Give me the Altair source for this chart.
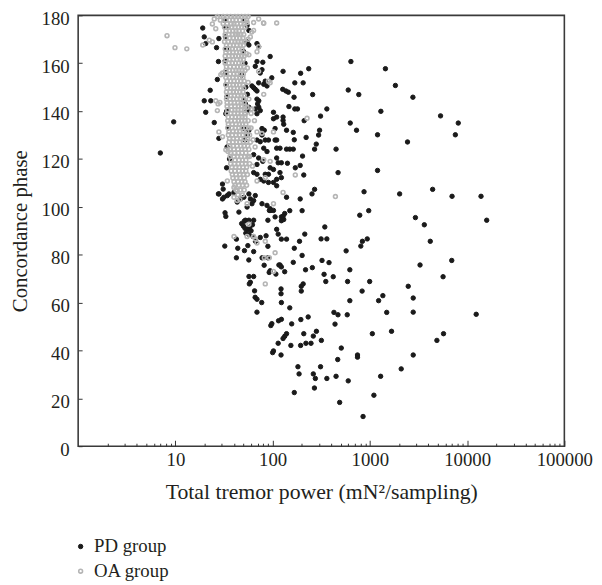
import altair as alt
import pandas as pd

FONT = "Liberation Serif"
TXT = "#231f20"

# ---- PD group (filled black dots): (total tremor power, concordance phase)
pd_points = [
    (7, 122.5), (9.6, 135.5), (19.1, 174.7), (19.8, 171), (20.5, 168.2), (28, 170.3), (26.5, 166.5),
    (27.7, 160.7), (27, 153.2), (22.8, 148.7), (19.8, 144.3), (23.1, 144.3), (20.5, 139.5), (33, 138.9),
    (25.1, 135.2), (28, 128.6), (33.6, 116.3), (27.7, 105.4), (31, 107.4), (34.2, 104.7), (30.5, 103.3),
    (30.5, 109.5), (28.1, 105.4), (31.6, 104), (35.6, 105.4), (32.4, 97.5), (33, 96), (32.2, 83.6),
    (32.7, 171), (33.5, 166), (33, 156), (34, 146), (33.7, 140), (35, 133), (34, 125), (36, 120),
    (32, 178), (33, 175), (32.5, 161), (33.2, 151),
    (50.6, 177.8), (54.6, 175.8), (57, 173.7), (54.6, 168.9), (57, 167.6), (69, 168.2), (71.8, 166.9),
    (69, 160.7), (66.3, 158.7), (77.7, 157.3), (74.6, 155.9), (94.3, 162.8), (128, 156.6), (79.2, 160.4),
    (98, 153.9), (83.9, 152.5), (81, 151.2), (87.5, 150.5), (71.8, 151.8), (63.8, 149.8), (66.3, 149.1),
    (69, 148.4), (61.3, 150.5), (127, 149.1), (137, 148.4), (69, 145), (72, 144.3), (70, 143), (72, 141.6),
    (66.3, 140.9), (74.6, 140.2), (69, 138.9), (50.6, 144.3), (52.5, 143), (54.6, 140.2), (57, 141.6),
    (102, 139.5), (128, 137.5), (110, 137.5), (50, 165), (52, 160), (48, 155), (53, 150), (55, 147),
    (50.6, 132.7), (57, 132), (54.6, 130), (52, 127.9), (77.7, 132.7), (82, 132), (77.7, 130), (69, 127.9),
    (74.6, 127.2), (83.9, 127.9), (90.6, 127.9), (106, 127.9), (110, 127.9), (102, 136.8), (128, 136.1),
    (130, 134.5), (106, 132.7), (81, 124.5), (87.5, 123.1), (110, 124.5), (119, 124.5), (63.8, 121.8),
    (71.8, 120.4), (69, 117.7), (79.2, 119), (114, 118.4), (123, 118.4), (110, 120.4), (94.3, 116.3),
    (102, 115.6), (119, 114.3), (63.8, 114.3), (69, 113.6), (83.9, 113.6), (90.6, 113.6), (74.6, 111.5),
    (81, 110.8), (90.6, 110.2), (102, 110.2), (110, 108.8), (123, 112.2), (40, 106), (43.2, 102),
    (46.7, 103.3), (50.6, 104), (57, 105.4), (59.1, 103.3), (63.8, 102.6), (66.3, 104.7), (61.3, 101.3),
    (54.6, 99.9), (77.7, 101.3), (87.5, 100.6), (94.3, 99.2), (45, 97.8), (52.4, 94.4), (57, 94.4),
    (63.8, 94.4), (123, 95.8), (133, 97.2), (139, 104), (102, 98.5), (110, 111.5),
    (638, 160.7), (1445, 157.7), (235, 157.7), (194, 155.8), (169, 151.8), (206, 151.8), (1830, 150.7),
    (599, 148.8), (769, 146.9), (2770, 145.8), (145, 147.9), (166, 145.8), (258, 146.9), (147, 141.9),
    (169, 140.9), (180, 140.9), (361, 140.9), (1297, 139.9), (311, 137.9), (211, 136), (628, 135),
    (139, 132), (163, 131.1), (304, 132), (729, 132), (297, 130), (167, 128), (221, 129), (1199, 130.1),
    (2438, 127.1), (281, 126.2), (139, 124.1), (150, 124.1), (163, 124.1), (270, 124.1), (449, 124.1),
    (203, 121.2), (142, 118.2), (171, 116.3), (192, 117.3), (209, 113.3), (471, 114.3), (1199, 115.2),
    (270, 107.3), (254, 105.4), (871, 106.3), (2023, 105.4), (4420, 107.3), (192, 103.3), (150, 98.4),
    (201, 98.4), (787, 96.5), (973, 98.4), (2940, 95.5), (3630, 92.5), (344, 91.6),
    (5330, 138), (8110, 135), (7570, 130.1), (7000, 104.4), (13900, 104.4), (15900, 94.4), (4180, 85.6),
    (6950, 77.6), (3280, 75.7), (5660, 70.8), (2480, 66.8), (2790, 61.9), (2790, 56), (12400, 55.1),
    (5720, 47), (4890, 44.2), (2790, 38.1), (2100, 32.3), (1670, 48), (1060, 47), (1490, 55.9),
    (1360, 62.9), (1230, 60.8), (995, 68.8), (832, 64.8), (1290, 29.2), (1100, 21.3), (851, 12.4),
    (489, 18.3), (599, 27.3), (449, 29.2), (361, 28.3), (275, 28.3), (262, 30.2), (269, 24.3), (311, 33.2),
    (182, 33.2), (187, 30.2), (467, 36.2), (508, 41), (746, 38.1), (746, 37.2), (194, 42.1), (220, 43),
    (248, 43), (209, 47), (262, 46), (282, 48), (317, 44.2), (195, 52.9), (232, 54), (427, 55.9),
    (470, 54.9), (585, 54.9), (438, 51), (622, 60.8), (590, 68.8), (622, 73.7), (420, 70.8), (352, 68.8),
    (338, 71.8), (380, 76.7), (322, 77.6), (570, 81.6), (218, 73.7), (256, 74.6), (197, 64.8), (206, 67.8),
    (197, 66.8), (201, 79.7), (189, 85.6), (214, 88.6), (315, 86.6), (361, 86.6), (807, 83.6), (838, 85.6),
    (940, 86.6),
    (42.4, 86.5), (42.4, 78.7), (43.8, 82.7), (51.3, 81.7), (56.9, 77.8), (57.1, 70.9), (63.8, 70.9),
    (59, 68.5), (57.6, 67.8), (65.2, 64.9), (66.1, 62.2), (69, 61.4), (77.2, 60), (69, 56), (95.8, 50.4),
    (98.1, 51.2), (115, 52.4), (123, 53), (128, 45), (133, 45.9), (139, 47), (114, 43), (102, 39.8),
    (100, 39.1), (122, 38.1), (154, 42.1), (167, 22.4), (150, 57.8), (123, 60), (122, 63.7), (122, 65.7),
    (157, 51.1), (167, 82.7), (163, 76.8), (119, 75.7), (116, 75.7), (123, 74.9), (133, 72.9), (108, 71.9),
    (94.3, 73.3), (92.2, 72.6), (110, 90.6), (123, 86.5), (139, 86.5), (114, 88.6), (106, 95.8), (128, 96.1),
    (123, 94.2), (130, 94.7), (89.4, 94.4), (95.8, 98.5), (92.5, 98.5), (89.4, 83.5), (89.4, 78.7),
    (81.8, 75.6), (77.9, 78.7), (85.6, 87.9), (74.6, 87.2), (66.7, 85.6), (63, 87.6), (55.6, 83.8),
    (63.8, 81.3), (50, 92), (52, 91), (55, 90.5), (58, 91.5), (62, 92.5), (48, 93), (53, 89), (57, 88.5),
    (60, 90), (51, 94),
]

# ---- OA group (open grey circles): scattered points
oa_points = [
    (8.2, 171.5), (9.9, 166.5), (13.1, 166), (19.1, 167.6), (22.3, 169.6), (24, 168.9), (25.1, 178.5),
    (24, 176.4), (26, 174.4), (71.8, 178.5), (80.6, 176.8), (110, 176.8), (61, 173), (63.8, 173.7), (59, 171),
    (71.8, 166.9), (69, 164.8), (57, 163.5), (30.5, 155.9), (29.3, 155.2), (71.8, 156.6), (94.3, 151.8),
    (90.6, 152.5), (81, 147), (61.3, 140.9), (54.6, 141.6), (52.5, 138.9), (27, 140.2), (26, 144.3),
    (54.6, 177), (63.8, 177), (81, 176.7), (27.5, 143), (28.7, 143.6), (28, 131.3), (30.5, 129.3),
    (33, 123.8), (34.8, 123.1), (69, 131.3), (77.7, 130.7), (102, 131.3), (81, 119.7), (94.3, 119),
    (128, 106), (102, 101.3), (84, 112.2), (69, 110.8), (34.2, 110.8), (40, 108.1), (43.2, 106.7), (40, 104),
    (43.2, 102.6), (54.6, 101.3), (40, 87.6), (54.6, 87.6), (63.8, 87.6), (57, 92.7), (69, 84.9), (66.3, 86.6),
    (84, 85.6), (106, 80.8), (82, 78.7), (92.5, 78.7), (102, 73), (84, 67.8), (226, 137), (171, 113.3),
    (442, 104.3), (60, 133), (63, 128), (66, 125), (58, 121), (62, 117), (65, 136), (60, 139), (57, 145),
    (56, 152), (55, 158), (54, 164), (56, 170),
]

# ---- OA group: dense column, read row by row (phase, powers)
oa_band_rows = [
    (179.5, [27, 31, 34, 37, 41, 44, 48, 52, 56]),
    (178, [29, 33, 36, 39, 42, 46, 50, 54]),
    (176.5, [31, 34, 37.5, 40, 43, 47, 51]),
    (175, [32, 35, 38, 41, 44.5, 48, 52]),
    (173.5, [33, 36, 39, 42, 45, 49]),
    (172, [32.5, 35.5, 38.5, 41.5, 44, 47, 50.5]),
    (170.5, [33, 36, 39.5, 42.5, 46, 49.5]),
    (169, [32, 35, 38, 41, 44, 47.5, 51]),
    (167.5, [33.5, 36.5, 39.5, 43, 46.5, 50]),
    (166, [32.5, 35.5, 38.5, 41.5, 45, 48.5]),
    (164.5, [33, 36, 39, 42.5, 46, 49.5]),
    (163, [32.5, 35.5, 38.5, 41.5, 44.5, 48, 51]),
    (161.5, [33, 36, 39.5, 43, 46.5, 50]),
    (160, [32.5, 35.5, 38.5, 41.5, 45, 48.5]),
    (158.5, [33.5, 36.5, 40, 43.5, 47, 50.5]),
    (157, [33, 36, 39, 42, 45, 48.5, 52]),
    (155.5, [33.5, 36.5, 40, 43, 46.5, 50]),
    (154, [33, 36, 39, 42.5, 46, 49.5]),
    (152.5, [34, 37, 40, 43.5, 47, 51]),
    (151, [33, 36, 39.5, 42.5, 46, 49.5]),
    (149.5, [34, 37, 40, 43.5, 47, 50.5]),
    (148, [33.5, 36.5, 39.5, 42.5, 46, 49.5]),
    (146.5, [34, 37, 40.5, 44, 47.5, 51]),
    (145, [33.5, 36.5, 39.5, 43, 46.5, 50]),
    (143.5, [34, 37, 40.5, 44, 47.5, 51]),
    (142, [34, 37.5, 41, 44.5, 48, 52]),
    (140.5, [34.5, 38, 41, 44, 47.5, 51]),
    (139, [34, 37, 40.5, 44, 47.5, 51.5]),
    (137.5, [35, 38, 41.5, 45, 48.5, 52]),
    (136, [34.5, 37.5, 41, 44.5, 48, 52, 56]),
    (134.5, [35, 38.5, 42, 45.5, 49, 53]),
    (133, [34.5, 38, 41.5, 45, 48.5, 52.5, 57]),
    (131.5, [35.5, 39, 42.5, 46, 50, 54]),
    (130, [35, 38.5, 42, 45.5, 49.5, 53.5, 58]),
    (128.5, [36, 39.5, 43, 47, 51, 55]),
    (127, [35.5, 39, 42.5, 46, 50, 54, 59]),
    (125.5, [36, 39.5, 43, 47, 51, 55.5]),
    (124, [36.5, 40, 44, 48, 52, 57]),
    (122.5, [37, 40.5, 44.5, 48.5, 53]),
    (121, [36.5, 40, 43.5, 47.5, 51.5, 56]),
    (119.5, [37.5, 41, 45, 49, 53]),
    (118, [37, 40.5, 44.5, 48.5, 52.5, 58]),
    (116.5, [38, 41.5, 45.5, 49.5, 54]),
    (115, [37.5, 41, 45, 49, 53]),
    (113.5, [38.5, 42, 46, 50, 55]),
    (112, [39, 42.5, 46.5, 51]),
    (110.5, [40, 44, 48, 52]),
    (109, [41, 45, 49, 54]),
    (107, [42, 46.5, 51]),
    (105, [44, 49]),
    (103, [46]),
]

groups = ["PD group", "OA group"]
x_major = [10, 100, 1000, 10000, 100000]
x_minor = [2, 3, 4, 5, 6, 7, 8, 9, 20, 30, 40, 50, 60, 70, 80, 90,
           200, 300, 400, 500, 600, 700, 800, 900, 2000, 3000, 4000, 5000, 6000, 7000, 8000, 9000,
           20000, 30000, 40000, 50000, 60000, 70000, 80000, 90000]
y_ticks = [0, 20, 40, 60, 80, 100, 120, 140, 160, 180]

rows = [{"power": x, "phase": y, "group": "PD group"} for x, y in pd_points]
rows += [{"power": x, "phase": y, "group": "OA group"} for x, y in oa_points]
for y, xs in oa_band_rows:
    rows += [{"power": x, "phase": y, "group": "OA group"} for x in xs]
df = pd.DataFrame(rows)

xscale = alt.Scale(type="log", domain=[1, 100000], nice=False)
yscale = alt.Scale(domain=[0, 180], nice=False)

legend_common = dict(
    title=None, orient="none", legendX=-7, legendY=528,
    labelFont=FONT, labelFontSize=19, labelColor=TXT, labelOffset=4,
    symbolSize=22, symbolStrokeWidth=1.1, rowPadding=5,
)

main = alt.Chart(df).mark_point(opacity=1).encode(
    x=alt.X("power:Q", scale=xscale, axis=alt.Axis(
        values=x_major, format="d", orient="bottom", offset=-6, tickSize=6, tickWidth=1,
        tickColor="#333", domain=False, grid=False, labelPadding=5, labelFlush=False,
        labelFont=FONT, labelFontSize=19, labelColor=TXT,
        title="Total tremor power (mN²/sampling)",
        titleFont=FONT, titleFontSize=22, titleFontWeight="normal", titleColor=TXT,
        titlePadding=12)),
    y=alt.Y("phase:Q", scale=yscale, axis=alt.Axis(
        values=y_ticks, offset=-4, tickSize=4, tickWidth=1, tickColor="#333", domain=False,
        grid=False, labelPadding=9, labelFlush=False, labelFont=FONT, labelFontSize=19,
        labelColor=TXT, labelOffset=3, title="Concordance phase", titleFont=FONT,
        titleFontSize=21, titleFontWeight="normal", titleColor=TXT, titlePadding=11)),
    color=alt.Color("group:N", scale=alt.Scale(domain=groups, range=["#1a1a1a", "#b5b5b5"]),
                    legend=alt.Legend(**legend_common)),
    fill=alt.Fill("group:N", scale=alt.Scale(domain=groups, range=["#1a1a1a", "transparent"]),
                  legend=alt.Legend(**legend_common)),
    size=alt.Size("group:N", scale=alt.Scale(domain=groups, range=[20, 15]), legend=None),
    strokeWidth=alt.StrokeWidth("group:N", scale=alt.Scale(domain=groups, range=[1, 1.6]),
                                legend=None),
)

minor = alt.Chart(df).mark_point(opacity=0).encode(
    x=alt.X("power:Q", scale=xscale, axis=alt.Axis(
        values=x_minor, orient="bottom", offset=-3, tickSize=3, tickWidth=1, tickColor="#333",
        labels=False, domain=False, grid=False, title=None)),
)

chart = alt.layer(main, minor).resolve_axis(x="independent").properties(
    width=492, height=436,
    autosize=alt.AutoSizeParams(type="none"),
    padding={"left": 71, "top": 4, "right": 30, "bottom": 134},
).configure_view(stroke="#3a3a3a", strokeWidth=1.6)

chart.save("out.html", embed_options={"renderer": "svg", "actions": False})
